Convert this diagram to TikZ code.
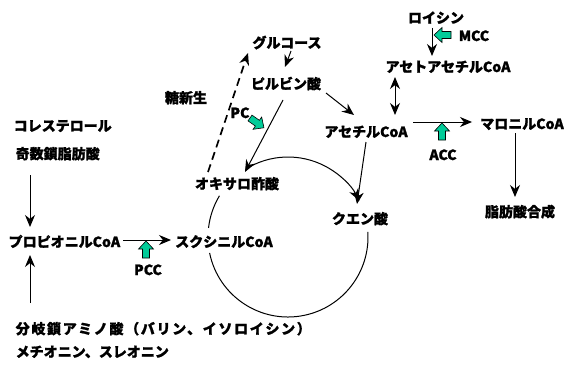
\documentclass[tikz,border=0pt]{standalone}
\usepackage{fontspec}
\setmainfont{Noto Sans CJK JP}[BoldFeatures={FakeBold=1.3}]
\usetikzlibrary{arrows.meta,calc}
\definecolor{gteal}{RGB}{0,204,153}
\newcommand\greenarr[3]{\draw[garr, shift={(#1,#2)}, rotate=#3] (0,-3.5) -- (9,-3.5) -- (9,-7.5) -- (17,0) -- (9,7.5) -- (9,3.5) -- (0,3.5) -- cycle;}
\begin{document}
\begin{tikzpicture}[x=1pt,y=1pt,
  lbl/.style={font=\fontsize{14pt}{16pt}\selectfont\bfseries, inner sep=0.5pt, text height=12pt, text depth=2pt},
  arr/.style={-{Stealth[length=12pt,width=10pt]}, line width=1pt},
  dblarr/.style={{Stealth[length=12pt,width=10pt]}-{Stealth[length=12pt,width=10pt]}, line width=1pt},
  dasharr/.style={-{Stealth[length=12pt,width=10pt]}, line width=1.7pt, dash pattern=on 8pt off 5pt},
  cyc/.style={line width=1pt},
  garr/.style={fill=gteal, draw=black, line width=0.6pt, line join=miter}]
\useasboundingbox (0,0) rectangle (564,365);
\fill[white] (0,0) rectangle (564,365);

% nodes
\node[lbl] (glu) at (287,322) {グルコース};
\node[lbl] (pyr) at (286,281) {ピルビン酸};
\node[lbl] (tsn) at (186,267) {糖新生};
\node[lbl] (pc) at (240,252) {PC};
\node[lbl] (acet) at (366,233) {アセチルCoA};
\node[lbl] (oxa) at (237,181) {オキサロ酢酸};
\node[lbl] (cit) at (360,146) {クエン酸};
\node[lbl] (suc) at (224,123) {スクシニルCoA};
\node[lbl, anchor=west] (prop) at (8,123) {プロピオニルCoA};
\node[lbl] (pcc) at (148,95) {PCC};
\node[lbl, anchor=west] (chol) at (13,239) {コレステロール};
\node[lbl, anchor=west] (odd) at (15,211) {奇数鎖脂肪酸};
\node[lbl, anchor=west] (bcaa) at (15,36) {\addfontfeature{LetterSpace=12}分岐鎖アミノ酸（バリン、イソロイシン）};
\node[lbl, anchor=west] (met) at (15,13) {メチオニン、スレオニン};
\node[lbl] (leu) at (436,347) {ロイシン};
\node[lbl] (mcc) at (474,329) {MCC};
\node[lbl] (aa) at (448,298) {アセトアセチルCoA};
\node[lbl] (mal) at (522,241) {マロニルCoA};
\node[lbl] (acc) at (443,210) {ACC};
\node[lbl] (fas) at (520,153) {脂肪酸合成};

% TCA cycle
\coordinate (cc) at (288,128);
\draw[cyc] ($(cc)+(149:80)$) arc[start angle=149, end angle=173.5, radius=80];
\draw[cyc] ($(cc)+(191.5:80)$) arc[start angle=191.5, end angle=363.6, radius=80];
\draw[cyc, -{Stealth[length=12pt,width=10pt]}] ($(cc)+(122:80)$) arc[start angle=122, end angle=27, radius=80];

% connectors
\draw[dasharr] ($(oxa)+(-29,12)$) -- ($(glu)+(-39,-10)$);
\draw[arr] ($(glu)+(4,-8)$) -- ($(pyr)+(-1,17)$);
\draw[arr] ($(pyr)+(-3,-16)$) -- ($(oxa)+(8,12)$);
\draw[arr] ($(pyr)+(40,-9)$) -- ($(acet)+(-12,17)$);
\draw[arr] ($(acet)+(0,-10)$) -- ($(cit)+(-3,15)$);
\draw[arr] ($(prop.west)+(115,2)$) -- ($(suc)+(-53,2)$);
\draw[arr] ($(odd.west)+(15,-21)$) -- ($(prop.west)+(22,15)$);
\draw[arr] ($(bcaa.west)+(15,26)$) -- ($(prop.west)+(22,-13)$);
\draw[arr] ($(leu)+(-4,-10)$) -- ($(aa)+(-16,11)$);
\draw[dblarr] ($(aa)+(-53,-10)$) -- ($(acet)+(29,17)$);
\draw[arr] ($(acet)+(47,10)$) -- ($(mal)+(-50,2)$);
\draw[arr] ($(mal)+(-7,-9)$) -- ($(fas)+(-5,15)$);

% enzyme block arrows
\greenarr{146}{107}{90}
\greenarr{442}{225}{90}
\greenarr{451}{330}{180}
\greenarr{250}{247}{-35}
\end{tikzpicture}
\end{document}
